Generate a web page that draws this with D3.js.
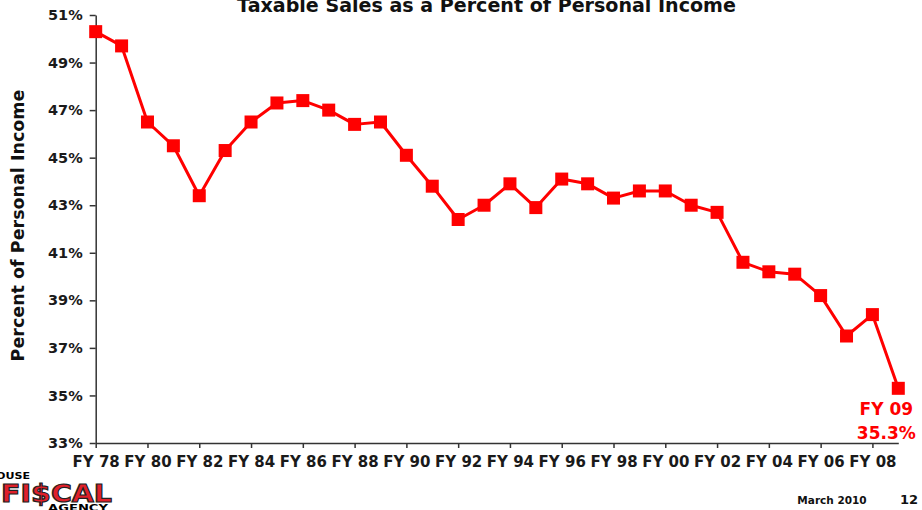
<!DOCTYPE html>
<html><head><meta charset="utf-8">
<script src="https://cdn.jsdelivr.net/npm/d3@7"></script>
<style>
html,body{margin:0;padding:0;background:#fff;}
svg{display:block;font-family:"DejaVu Sans",Verdana,sans-serif;}
</style></head>
<body>
<svg id="chart" width="922" height="510"></svg>
<script>
const years = ["FY 78","FY 79","FY 80","FY 81","FY 82","FY 83","FY 84","FY 85","FY 86","FY 87","FY 88","FY 89","FY 90","FY 91","FY 92","FY 93","FY 94","FY 95","FY 96","FY 97","FY 98","FY 99","FY 00","FY 01","FY 02","FY 03","FY 04","FY 05","FY 06","FY 07","FY 08","FY 09"];
const values = [50.3,49.7,46.5,45.5,43.4,45.3,46.5,47.3,47.4,47.0,46.4,46.5,45.1,43.8,42.4,43.0,43.9,42.9,44.1,43.9,43.3,43.6,43.6,43.0,42.7,40.6,40.2,40.1,39.2,37.5,38.4,35.3];
const xTickLabels = ["FY 78","FY 80","FY 82","FY 84","FY 86","FY 88","FY 90","FY 92","FY 94","FY 96","FY 98","FY 00","FY 02","FY 04","FY 06","FY 08"];
const yTicks = [33,35,37,39,41,43,45,47,49,51];
const titleText = "Taxable Sales as a Percent of Personal Income";
const yTitle = "Percent of Personal Income";
const lastLabel = ["FY 09","35.3%"];

const svg = d3.select("#chart");
const x = d3.scalePoint().domain(years).range([95.7, 898.3]);
const y = d3.scaleLinear().domain([33, 51]).range([443, 15]);
const axisColor = "#333";

// title
const t = svg.append("text").attr("x", 486.5).attr("y", 11.5).attr("text-anchor","middle")
  .attr("font-weight","bold").attr("font-size", 17).attr("fill","#111").text(titleText);
const tw = t.node().getComputedTextLength();
t.attr("font-size", 17 * 499 / tw);

// y axis
const gy = svg.append("g").attr("transform","translate(95.7,0)")
  .call(d3.axisLeft(y).tickValues(yTicks).tickFormat(d => d + "%").tickSize(6).tickSizeOuter(0).tickPadding(7));
gy.select(".domain").attr("stroke", axisColor).attr("stroke-width", 1.5);
gy.selectAll(".tick line").attr("stroke", axisColor).attr("stroke-width", 1.5);
gy.selectAll(".tick text").attr("font-family","DejaVu Sans").attr("font-weight","bold").attr("font-size",14.5).attr("fill","#1a1a1a");

// x axis
const gx = svg.append("g").attr("transform","translate(0,443)")
  .call(d3.axisBottom(x).tickValues(xTickLabels).tickSize(5).tickSizeOuter(0).tickPadding(8.5));
gx.select(".domain").attr("stroke", axisColor).attr("stroke-width", 1.5);
gx.selectAll(".tick line").attr("stroke", axisColor).attr("stroke-width", 1.5);
gx.selectAll(".tick text").attr("font-family","DejaVu Sans").attr("font-weight","bold").attr("font-size",15).attr("fill","#1a1a1a");

// y title
svg.append("text").attr("transform","translate(24,225.5) rotate(-90)").attr("text-anchor","middle")
  .attr("font-weight","bold").attr("font-size",17.5).attr("fill","#111").text(yTitle);

// line
const data = years.map((d,i) => ({year:d, value:values[i]}));
svg.append("path").datum(data)
  .attr("fill","none").attr("stroke","#ff0000").attr("stroke-width",3).attr("stroke-linejoin","round")
  .attr("d", d3.line().x(d => x(d.year)).y(d => y(d.value)));
const sz = 13;
svg.selectAll("rect.pt").data(data).enter().append("rect").attr("class","pt")
  .attr("x", d => x(d.year) - sz/2).attr("y", d => y(d.value) - sz/2)
  .attr("width", sz).attr("height", sz).attr("fill","#ff0000");

// last label
const last = data[data.length-1];
svg.append("text").attr("x", x(last.year) - 12).attr("y", y(last.value) + 27)
  .attr("text-anchor","middle").attr("font-weight","bold").attr("font-size",17).attr("fill","#ff0000").text(lastLabel[0]);
svg.append("text").attr("x", x(last.year) - 12).attr("y", y(last.value) + 51)
  .attr("text-anchor","middle").attr("font-weight","bold").attr("font-size",17).attr("fill","#ff0000").text(lastLabel[1]);

// footer
svg.append("text").attr("x", 832).attr("y", 504).attr("text-anchor","middle")
  .attr("font-weight","bold").attr("font-size",10.5).attr("fill","#111").text("March 2010");
svg.append("text").attr("x", 909).attr("y", 504).attr("text-anchor","middle")
  .attr("font-weight","bold").attr("font-size",13).attr("fill","#111").text("12");

// logo
svg.append("text").attr("x", -4).attr("y", 479).attr("font-weight","bold").attr("font-size",8)
  .attr("fill","#000").attr("textLength",34).attr("lengthAdjust","spacingAndGlyphs").text("OUSE");
svg.append("text").attr("x", 1).attr("y", 502).attr("font-weight","bold").attr("font-size",25)
  .attr("fill","#e0202a").attr("stroke","#222").attr("stroke-width",1.2)
  .attr("textLength",111).attr("lengthAdjust","spacingAndGlyphs").text("FI$CAL");
svg.append("text").attr("x", 48).attr("y", 511).attr("font-weight","bold").attr("font-size",8.5)
  .attr("fill","#000").attr("textLength",60).attr("lengthAdjust","spacingAndGlyphs").text("AGENCY");
</script>
</body></html>
